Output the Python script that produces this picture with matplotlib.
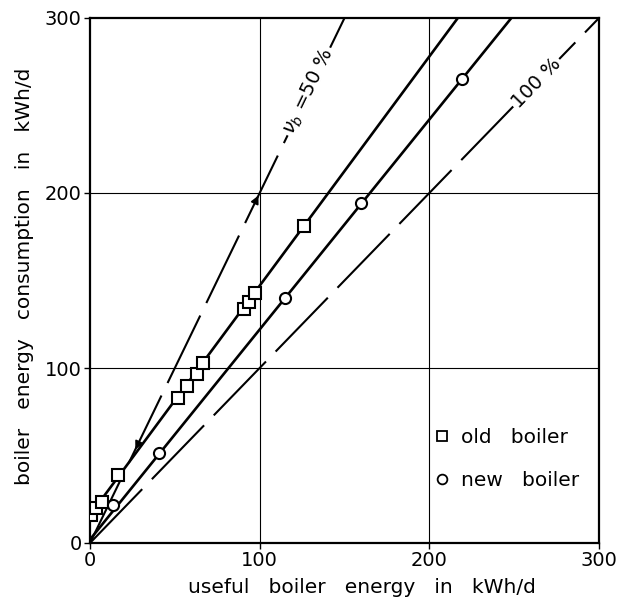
import numpy as np
import matplotlib
matplotlib.use("Agg")
import matplotlib.pyplot as plt
from matplotlib.lines import Line2D

plt.rcParams['font.family'] = ['DejaVu Sans']
plt.rcParams['lines.scale_dashes'] = False

# ---- data (kWh/d) ----
old_useful = [0.5, 3.5, 7, 16.5, 52, 57, 63, 66.5, 90.5, 94, 97, 126]
old_consumption = [16, 20, 23.5, 39, 83, 89.5, 96.5, 103, 134, 138, 143, 181]
new_useful = [13.5, 40.5, 115, 160, 219.5]
new_consumption = [22, 51.5, 140, 194, 265]
old_fit = (16.0, 1.31)   # intercept, slope
new_fit = (2.0, 1.20)
efficiencies = [0.5, 1.0]  # reference lines: consumption = useful / efficiency
eff_labels = [r'$\nu_b$ =50 %', '100 %']
xticks = [0, 100, 200, 300]
yticks = [0, 100, 200, 300]
xlabel = 'useful   boiler   energy   in   kWh/d'
ylabel = 'boiler   energy   consumption   in   kWh/d'
legend_labels = ['old   boiler', 'new   boiler']

W, H = 632, 613
fig = plt.figure(figsize=(W / 100, H / 100), dpi=100)
ax = fig.add_axes([90 / W, 1 - 543 / H, 509 / W, 525 / H])
ax.set_xlim(0, 300)
ax.set_ylim(0, 300)

# grid
for v in [100, 200]:
    ax.axvline(v, color='black', lw=0.8, zorder=1)
    ax.axhline(v, color='black', lw=0.8, zorder=1)

# efficiency reference lines (dashed)
for eff in efficiencies:
    xe = np.array([0, min(300, 300 * eff)])
    ax.plot(xe, xe / eff, color='black', lw=1.5, dashes=(54, 10), dash_capstyle='butt', zorder=2)

# fit lines
for (b, m) in [old_fit, new_fit]:
    xe = np.array([0, (300 - b) / m])
    ax.plot(xe, b + m * xe, color='black', lw=1.9, zorder=3, solid_capstyle='butt')

ax.plot(old_useful, old_consumption, ls='none', marker='s', ms=8, mfc='white', mec='black', mew=1.5, zorder=4)
ax.plot(new_useful, new_consumption, ls='none', marker='o', ms=8, mfc='white', mec='black', mew=1.5, zorder=4)

# efficiency labels
ax.text(129, 258, eff_labels[0], fontsize=14, rotation=np.degrees(np.arctan2(2, 1)),
        transform_rotates_text=True, rotation_mode='anchor', ha='center', va='center',
        bbox=dict(facecolor='white', edgecolor='none', pad=1.5), zorder=5)
ax.text(263, 263, eff_labels[1], fontsize=14, rotation=45,
        transform_rotates_text=True, rotation_mode='anchor', ha='center', va='center',
        bbox=dict(facecolor='white', edgecolor='none', pad=1.5), zorder=5)

# small arrowheads on the 50 % line
ax.annotate('', xy=(100, 200), xytext=(97, 194),
            arrowprops=dict(arrowstyle='-|>', color='black', lw=1.2, mutation_scale=12), zorder=5)
ax.annotate('', xy=(26, 52), xytext=(29, 58),
            arrowprops=dict(arrowstyle='-|>', color='black', lw=1.2, mutation_scale=12), zorder=5)

ax.set_xticks(xticks)
ax.set_yticks(yticks)
ax.tick_params(direction='out', length=4, width=1, labelsize=14, pad=2, color='black')
for s in ax.spines.values():
    s.set_linewidth(1.6)

ax.set_xlabel(xlabel, fontsize=14.5)
ax.set_ylabel(ylabel, fontsize=14.5)
ax.xaxis.set_label_coords((362 - 90) / 509, -(578 - 543) / 525)
ax.yaxis.set_label_coords(-(90 - 34) / 509, (543 - 276) / 525)

handles = [Line2D([], [], ls='none', marker='s', ms=7, mfc='white', mec='black', mew=1.3),
           Line2D([], [], ls='none', marker='o', ms=7, mfc='white', mec='black', mew=1.3)]
ax.legend(handles, legend_labels, loc='upper left', bbox_to_anchor=((432 - 90) / 509, (543 - 428) / 525),
          frameon=False, fontsize=14.5, handlelength=1.0, handletextpad=0.45, borderpad=0,
          borderaxespad=0, labelspacing=1.2)

fig.savefig('out.png', dpi=100, facecolor='white')
